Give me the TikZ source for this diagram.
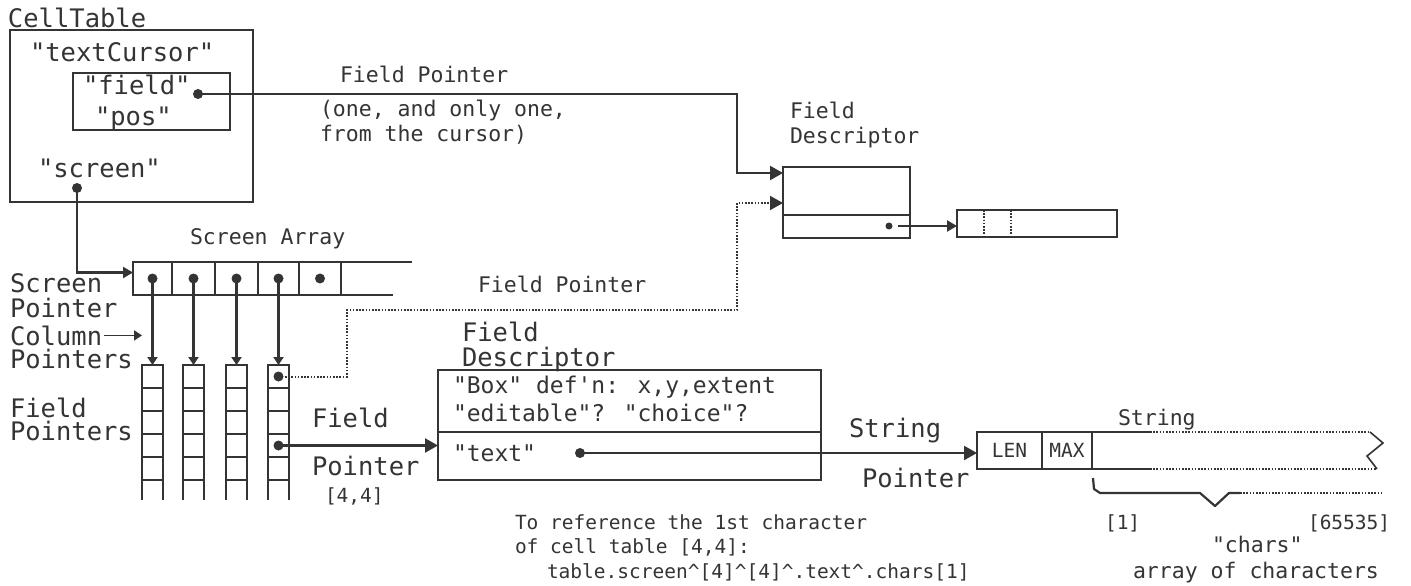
\documentclass[tikz,border=0pt]{standalone}
\usepackage{fontspec}
\newfontfamily\mono{DejaVu Sans Mono}
\usetikzlibrary{arrows.meta,calc}
\definecolor{ink}{HTML}{343434}
\newcommand\fA{\mono\fontsize{25.5}{26}\selectfont}
\newcommand\fB{\mono\fontsize{21.5}{24}\selectfont}
\newcommand\fC{\mono\fontsize{19.5}{24}\selectfont}
\newcommand\fD{\mono\fontsize{23}{24}\selectfont}
\begin{document}
\begin{tikzpicture}[x=1pt,y=-1pt,
  every node/.style={inner sep=0pt,outer sep=0pt,text=ink},
  lbl/.style={anchor=base west},
  fa/.style={font=\fA}, fb/.style={font=\fB}, fc/.style={font=\fC}, fd/.style={font=\fD},
  frame/.style={draw=ink,line width=2.2pt,anchor=north west},
  cell/.style={draw=ink,line width=2pt,anchor=north west,minimum width=21pt,minimum height=23pt},
  dot/.style={circle,fill=ink,minimum size=10pt},
  conn/.style={draw=ink,line width=2.2pt},
  tip/.style={-{Triangle[length=13pt,width=14pt]}},
  midtip/.style={-{Triangle[length=10pt,width=11pt]}},
  smalltip/.style={-{Triangle[length=8pt,width=10pt]}},
  dotline/.style={draw=ink,line width=2pt,dash pattern=on 1.6pt off 1.6pt},
]
\useasboundingbox (0,0) rectangle (1411,586);
\fill[white] (0,0) rectangle (1411,586);

% ---------------- CellTable
\node[lbl,fa] (ctl) at (8,28) {CellTable};
\node[frame,minimum width=243pt,minimum height=172pt] (ct) at (10,30) {};
\node[lbl,fa] (tc) at (30,62) {"textCursor"};
\node[frame,minimum width=157pt,minimum height=57pt] (cur) at (73,73) {};
\node[lbl,fa] (fld) at (83,95) {"field"};
\node[dot] (fdot) at (198,94) {};
\node[lbl,fa] (pos) at (95,125) {"pos"};
\node[lbl,fa] (scr) at (38,177) {"screen"};
\node[dot] (sdot) at (77,188) {};

% ---------------- top field pointer
\node[lbl,fb] (fp1) at (340,82) {Field Pointer};
\node[lbl,fb] (one1) at (320,117) {(one, and only one,};
\node[lbl,fb] (one2) at (320,141) {from the cursor)};

% ---------------- upper field descriptor
\node[lbl,fb] (fdl1) at (790,118) {Field};
\node[lbl,fb] (fdl2) at (790,143) {Descriptor};
\node[frame,minimum width=127pt,minimum height=71pt] (fdb) at (783,167) {};
\draw[conn] ([yshift=-48pt]fdb.north west) -- ([yshift=-48pt]fdb.north east);
\node[dot,minimum size=7pt] (fddot) at (889,226) {};
\node[frame,minimum width=160pt,minimum height=27pt] (rb) at (957,210) {};
\draw[dotline,line width=1.6pt] ([xshift=27pt]rb.north west) -- ([xshift=27pt]rb.south west);
\draw[dotline,line width=1.6pt] ([xshift=54pt]rb.north west) -- ([xshift=54pt]rb.south west);
\draw[conn,midtip] ([xshift=9pt]fddot.center) -- (fddot.center -| rb.west);

\coordinate (bend1) at (737,130);
\draw[conn,tip] (fdot.center) -| (bend1) |- ([yshift=-6pt]fdb.north west);

% ---------------- screen array
\node[lbl,fb] (sal) at (190,244) {Screen Array};
\foreach \n/\x/\w in {1/133/39,2/172/43,3/215/43,4/258/41,5/299/42}{
  \node[frame,minimum width=\w pt,minimum height=33pt] (s\n) at (\x,262) {};
  \node[dot] (d\n) at (s\n.center) {};
}
\draw[conn] (s5.north east) -- ++(71,0);
\draw[conn] (s5.south east) -- ++(52,0);
\draw[conn,midtip] (sdot.center) |- ([yshift=6pt]s1.west);

% ---------------- columns
\foreach \c/\x in {1/142,2/183,3/226,4/268}{
  \foreach \r/\y in {1/365,2/388,3/411,4/434,5/457}{
    \node[cell] (c\c\r) at (\x,\y) {};
  }
  \draw[conn,line width=2pt] (c\c5.south west) -- ++(0,20);
  \draw[conn,line width=2pt] (c\c5.south east) -- ++(0,20);
  \draw[conn,smalltip] (d\c.center) -- (c\c1.north);
}
\node[dot] (p1) at (c41.center) {};
\node[dot] (p4) at (c44.center) {};

% left labels
\node[lbl,fa] (l1) at (10,292) {Screen};
\node[lbl,fa] (l2) at (10,317) {Pointer};
\node[lbl,fa] (l3) at (10,345) {Column};
\node[lbl,fa] (l4) at (10,368) {Pointers};
\node[lbl,fa] (l5) at (10,417) {Field};
\node[lbl,fa] (l6) at (10,440) {Pointers};
\draw[conn,line width=1.8pt,smalltip] ([xshift=2pt]l3.east) -- (l3.east -| c11.west);

% dotted field pointer
\node[lbl,fb] (fp2) at (478,292) {Field Pointer};
\coordinate (b2) at (347,340);
\coordinate (b3) at (737,310);
\draw[dotline,tip] (p1.center) -| (b2) |- (b3) |- ([yshift=-36pt]fdb.north west);

% ---------------- field descriptor
\node[lbl,fa] (mdl1) at (462,341) {Field};
\node[lbl,fa] (mdl2) at (462,366) {Descriptor};
\node[frame,minimum width=383pt,minimum height=110pt] (desc) at (438,370) {};
\draw[conn] ([yshift=-62pt]desc.north west) -- ([yshift=-62pt]desc.north east);
\node[lbl,fd] (bx1) at (453,393) {"Box" def'n: x,y,extent};
\node[lbl,fd] (bx2) at (453,421) {"editable"? "choice"?};
\node[lbl,fd] (bx3) at (453,461) {"text"};
\node[dot] (tdot) at (580,453) {};

% field pointer [4,4]
\node[lbl,fa] (f1) at (312,427) {Field};
\node[lbl,fa] (f2) at (312,475) {Pointer};
\node[lbl,fc] (f3) at (325,502) {[4,4]};
\draw[conn,tip] (p4.center) -- (p4.center -| desc.west);

% ---------------- string
\node[frame,minimum width=65pt,minimum height=37pt,font=\fC] (len) at (977,432) {LEN};
\node[frame,minimum width=50pt,minimum height=37pt,font=\fC] (max) at (1042,432) {MAX};
\draw[conn,tip] (tdot.center) -- (tdot.center -| len.west);
\node[lbl,fa] (sp1) at (849,437) {String};
\node[lbl,fa] (sp2) at (862,487) {Pointer};
\node[lbl,fb] (strl) at (1118,425) {String};

\coordinate (zt) at (1370,432);
\coordinate (zb) at (1377,469);
\draw[conn] (max.north east) -- ++(58,0);
\draw[conn] (max.south east) -- ++(58,0);
\draw[dotline] ([xshift=58pt]max.north east) -- (zt);
\draw[dotline] ([xshift=58pt]max.south east) -- (zb);
\draw[conn,line width=1.6pt] (zt) -- (1383,443) -- (1367,456) -- (zb);

% brace
\coordinate (br0) at (1093,478);
\coordinate (br1) at (1240,493);
\coordinate (br2) at (1383,493);
\draw[conn,line join=round] (br0) -- (1094,489) -- (1100,493) -- (1200,493) -- (1215,506) -- (1229,493) -- (br1);
\draw[dotline] (br1) -- (br2);

\node[lbl,fc] (i1) at (1105,529) {[1]};
\node[lbl,fc] (i2) at (1308,529) {[65535]};
\node[lbl,fb] (ch1) at (1212,552) {"chars"};
\node[lbl,fb] (ch2) at (1133,578) {array of characters};

% ---------------- bottom note
\node[lbl,fc] (n1) at (515,529) {To reference the 1st character};
\node[lbl,fc] (n2) at (515,553) {of cell table [4,4]:};
\node[lbl,fc] (n3) at (547,578) {table.screen\textasciicircum[4]\textasciicircum[4]\textasciicircum.text\textasciicircum.chars[1]};
\end{tikzpicture}
\end{document}
